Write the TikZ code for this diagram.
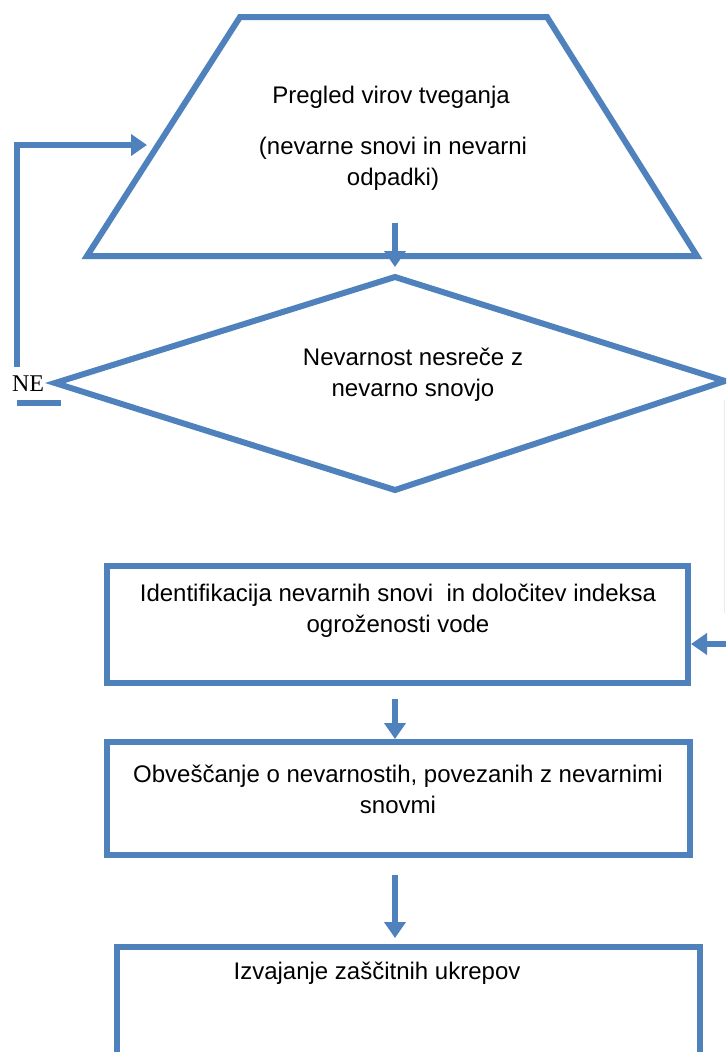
\documentclass[tikz,border=0pt]{standalone}
\usepackage{fontspec}
\setmainfont{Liberation Sans}
\newfontfamily\nefont{Liberation Serif}
\usetikzlibrary{arrows.meta}
\definecolor{linija}{RGB}{79,129,189}

\begin{document}
\begin{tikzpicture}[x=1pt, y=-1pt,
		oblika/.style={draw=linija, line width=6pt},
		okvir/.style={oblika, rectangle, inner sep=0pt},
		tok/.style={draw=linija, line width=6pt, -{Triangle[width=21pt, length=16pt]}},
		besedilo/.style={align=center, inner sep=0pt, font=\fontsize{24}{31}\selectfont}]
		\useasboundingbox (0,0) rectangle (726,1052);
		\clip (0,0) rectangle (726,1052);
		
		% Oblike
		\draw[oblika] (240,17) -- (547,17) -- (697,256) -- (87,256) -- cycle;
		\coordinate (dia-w) at (55,383);
		\coordinate (dia-n) at (395,277);
		\coordinate (dia-e) at (725,381);
		\coordinate (dia-s) at (395,490);
		\draw[oblika] (dia-w) -- (dia-n) -- (dia-e) -- (dia-s) -- cycle;
		\node[okvir, minimum width=581pt, minimum height=117pt] (r1) at (397.5,624.5) {};
		\node[okvir, minimum width=583pt, minimum height=113pt] (r2) at (398.5,798.5) {};
		\node[okvir, minimum width=583pt, minimum height=153pt] (r3) at (408.5,1023.5) {};
		
		% Besedila
		\node[besedilo] (t1) at (391,97) {Pregled virov tveganja};
		\node[besedilo] (t2) at (393,164) {(nevarne snovi in nevarni\\odpadki)};
		\node[besedilo] (t3) at (413,375) {Nevarnost nesreče z\\nevarno snovjo};
		\node[besedilo] (t4) at (398,611) {Identifikacija nevarnih snovi\ \ in določitev indeksa\\ogroženosti vode};
		\node[besedilo] (t5) at (398,789) {Obveščanje o nevarnostih, povezanih z nevarnimi\\snovmi};
		\node[besedilo] (t6) at (377,973) {Izvajanje zaščitnih ukrepov};
		\node[inner sep=0pt, font=\nefont\fontsize{24}{28}\selectfont] (ne) at (28,384) {NE};
		
		% Puščice
		\coordinate (a1) at (395,223);
		\coordinate (a1k) at (395,267);
		\draw[tok] (a1) -- (a1k);
		\coordinate (a2) at (395,699);
		\draw[tok] (a2) -- (a2 |- r2.north);
		\coordinate (a3) at (395,875);
		\coordinate (a3k) at (395,938);
		\draw[tok] (a3) -- (a3k);
		
		% Povratna zanka (NE)
		\coordinate (ne-gor) at (17,367);
		\coordinate (trap-lev) at (147,145);
		\draw[tok] (ne-gor) |- (trap-lev);
		\draw[oblika] (17,403) -- (61,403);
		
		% Desna veja
		\coordinate (des-gor) at (724.5,400);
		\coordinate (des) at (726,644);
		\draw[linija!15, line width=1.5pt] (des-gor) -- (724.5,613);
		\draw[tok] (des) -- (des -| r1.east);
	\end{tikzpicture}
\end{document}
